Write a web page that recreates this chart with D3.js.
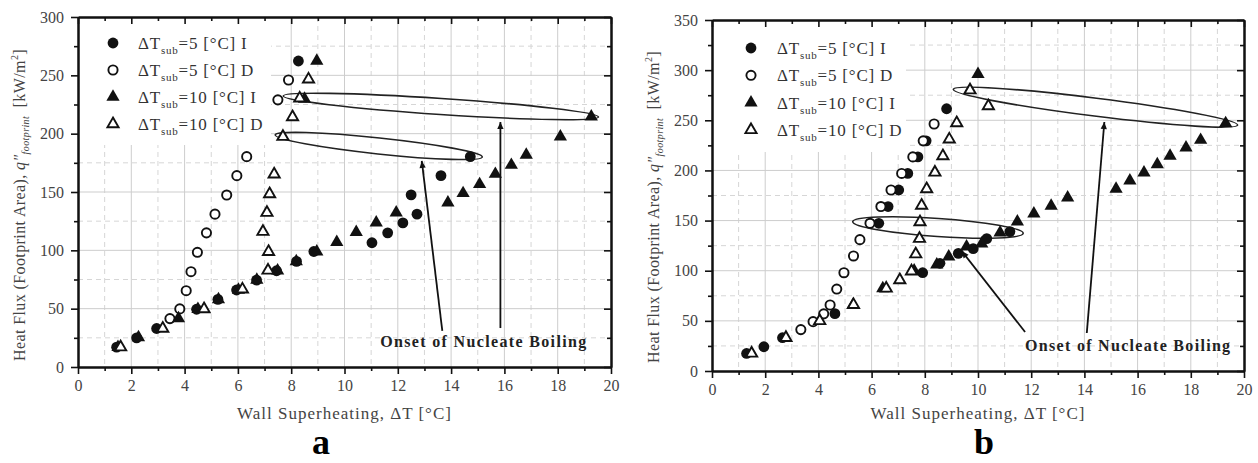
<!DOCTYPE html>
<html>
<head>
<meta charset="utf-8">
<script src="https://cdn.jsdelivr.net/npm/d3@7"></script>
<style>
  body { margin: 0; background: #fff; }
  svg { display: block; font-family: "Liberation Serif", "Times New Roman", serif; }
</style>
</head>
<body>
<svg id="chart" width="1258" height="463"></svg>
<script>
// ---- Tick values ----
const xTicks = [0, 2, 4, 6, 8, 10, 12, 14, 16, 18, 20];
const yTicksA = [0, 50, 100, 150, 200, 250, 300];
const yTicksB = [0, 50, 100, 150, 200, 250, 300, 350];

// ---- Legend ----
const legendSuffix = ["=5 [°C] I", "=5 [°C] D", "=10 [°C] I", "=10 [°C] D"];
const seriesKinds = ["circleFilled", "circleOpen", "triFilled", "triOpen"];

// ---- Panel a: [wall superheat °C, heat flux kW/m²] ----
const a5I = [[1.45,17],[2.2,25],[2.95,33],[4.45,49.5],[5.25,58],[5.95,66],[6.7,74.5],[7.45,82.5],[8.2,90.5],[8.85,99],
             [11.03,106.5],[11.62,115],[12.19,123.5],[12.72,131],[12.5,147.5],[13.62,164],[14.72,180.3],[8.27,262.3]];
const a5D = [[3.45,41.5],[3.82,49.8],[4.06,65.4],[4.24,81.7],[4.48,98.3],[4.82,115],[5.14,131],[5.58,147.4],[5.96,164],
             [6.33,180.3],[7.5,229],[7.9,246]];
const a10I = [[1.5,17],[2.27,25.4],[3.77,41.7],[4.5,49.5],[5.27,58],[6.02,66],[6.71,74.6],[7.49,82.5],[8.19,90.5],[8.96,98.8],
              [9.71,107],[10.44,115.5],[11.19,123.7],[11.94,132.3],[13.88,140.8],[14.45,148.9],[15.07,156.6],[15.66,165.4],
              [16.26,173.1],[16.82,181.7],[18.1,197.4],[19.26,214.6],[8.5,229.7],[8.96,262.3]];
const a10D = [[1.6,17],[3.18,33],[4.73,49.7],[6.17,66.6],[7.13,82.8],[7.15,98.8],[6.94,116],[7.09,132.3],[7.19,148.3],
              [7.36,165.2],[7.69,197.4],[8.05,214.3],[8.32,230.3],[8.65,246.6]];

// ---- Panel b ----
const b5I = [[1.3,17.5],[1.95,24.2],[2.65,33.2],[4.62,57.2],[7.92,98],[8.57,107.4],[9.26,117.3],[9.82,122],[10.33,132],
             [11.2,139],[6.27,147.3],[6.62,164],[7.02,180.5],[7.36,197],[7.74,213.5],[8.05,229.5],[8.82,261.5]];
const b5D = [[3.34,41.3],[3.8,49.2],[4.2,57],[4.44,65.8],[4.69,81.7],[4.96,98],[5.32,114.7],[5.56,131],[5.94,147.3],
             [6.35,164],[6.73,180.5],[7.13,197],[7.55,213.5],[7.94,229.5],[8.35,246.3]];
const b10I = [[5.3,66],[6.42,82.4],[7.6,100],[8.45,106],[8.9,114],[9.57,124],[10.14,127],[10.83,138],[11.48,148.9],
              [12.1,157],[12.75,164.7],[13.37,172.8],[15.19,181.5],[15.71,189.7],[16.24,197.7],[16.74,206.1],[17.22,214.4],
              [17.82,222.6],[18.37,230.3],[19.31,247],[10.0,296]];
const b10D = [[1.49,17.5],[2.78,33.2],[4.05,50],[5.32,66],[6.55,82.4],[7.06,90.7],[7.5,99.5],[7.66,116.5],[7.8,132],
              [7.82,148.5],[7.88,165],[8.07,181.5],[8.38,198],[8.68,214.4],[8.92,231],[9.2,247.3],[9.7,280],[10.39,264.2]];

// ---- Onset of nucleate boiling annotations (data units) ----
const onbLabel = "Onset of Nucleate Boiling";
const onbEllipsesA = [[[7.70,232.3],[19.53,214.3]], [[7.40,198.9],[15.17,180.0]]];
const onbArrowsA = [[[13.67,30.9],[12.9,176.6]], [[15.85,33.4],[15.85,210]]];
const onbTextA = [11.34, 17.1];
const onbEllipsesB = [[[9.07,280.9],[19.76,245.3]], [[5.29,148.9],[11.70,137.3]]];
const onbArrowsB = [[[11.77,38.9],[9.39,119.6]], [[14.09,37.9],[14.75,248.3]]];
const onbTextB = [11.77, 20];

const FONT = '"Liberation Serif", "Times New Roman", serif';

const svg = d3.select("#chart");
svg.append("rect").attr("width", 1258).attr("height", 463).attr("fill", "#fff");

const defs = svg.append("defs");
defs.append("marker")
  .attr("id", "arrowhead")
  .attr("viewBox", "0 0 10 10")
  .attr("refX", 10).attr("refY", 5)
  .attr("markerWidth", 10).attr("markerHeight", 7)
  .attr("markerUnits", "userSpaceOnUse")
  .attr("orient", "auto")
  .append("path").attr("d", "M0,0.5 L10,5 L0,9.5 Z").attr("fill", "#111");

const triFilledPath = d3.symbol(d3.symbolTriangle).size(76)();
const triOpenPath = d3.symbol(d3.symbolTriangle).size(54)();

function drawMarks(sel, kind) {
  if (kind === "circleFilled") {
    sel.append("circle").attr("r", 5.4).attr("fill", "#111");
  } else if (kind === "circleOpen") {
    sel.append("circle").attr("r", 4.6).attr("fill", "#fff").attr("stroke", "#111").attr("stroke-width", 1.9);
  } else if (kind === "triFilled") {
    sel.append("path").attr("d", triFilledPath).attr("fill", "#111");
  } else {
    sel.append("path").attr("d", triOpenPath).attr("fill", "#fff").attr("stroke", "#111")
      .attr("stroke-width", 1.9).attr("stroke-linejoin", "miter");
  }
}

function drawPanel(cfg) {
  const g = svg.append("g").attr("font-family", FONT);
  const x = d3.scaleLinear().domain([xTicks[0], xTicks[xTicks.length - 1]]).range([cfg.left, cfg.right]);
  const y = d3.scaleLinear().domain([cfg.yTicks[0], cfg.yTicks[cfg.yTicks.length - 1]]).range([cfg.bottom, cfg.top]);
  const xMinor = d3.pairs(xTicks).map(([a, b]) => (a + b) / 2);
  const yMinor = d3.pairs(cfg.yTicks).map(([a, b]) => (a + b) / 2);

  // grid: solid at major ticks, dashed at minor ticks
  const grid = g.append("g");
  grid.selectAll(null).data(xTicks.slice(1, -1)).join("line")
    .attr("x1", d => x(d)).attr("x2", d => x(d)).attr("y1", cfg.top).attr("y2", cfg.bottom)
    .attr("stroke", "#cdcdcd").attr("stroke-width", 1);
  grid.selectAll(null).data(xMinor).join("line")
    .attr("x1", d => x(d)).attr("x2", d => x(d)).attr("y1", cfg.top).attr("y2", cfg.bottom)
    .attr("stroke", "#d6d6d6").attr("stroke-width", 1).attr("stroke-dasharray", "5,4");
  grid.selectAll(null).data(cfg.yTicks.slice(1, -1)).join("line")
    .attr("y1", d => y(d)).attr("y2", d => y(d)).attr("x1", cfg.left).attr("x2", cfg.right)
    .attr("stroke", "#cdcdcd").attr("stroke-width", 1);
  grid.selectAll(null).data(yMinor).join("line")
    .attr("y1", d => y(d)).attr("y2", d => y(d)).attr("x1", cfg.left).attr("x2", cfg.right)
    .attr("stroke", "#d6d6d6").attr("stroke-width", 1).attr("stroke-dasharray", "5,4");

  // legend background
  g.append("rect").attr("x", cfg.left + 1).attr("y", cfg.top + 1)
    .attr("width", cfg.legendW).attr("height", cfg.legendH).attr("fill", "#fff");

  // axes (ticks out on left/bottom, in on top/right)
  const axes = g.append("g");
  axes.append("g").attr("transform", `translate(0,${cfg.bottom})`)
    .call(d3.axisBottom(x).tickValues(xTicks).tickSize(7).tickSizeOuter(0).tickPadding(6).tickFormat(d3.format("d")));
  axes.append("g").attr("transform", `translate(0,${cfg.bottom})`)
    .call(d3.axisBottom(x).tickValues(xMinor).tickSize(4).tickSizeOuter(0).tickFormat(""));
  axes.append("g").attr("transform", `translate(0,${cfg.top})`)
    .call(d3.axisTop(x).tickValues(xTicks).tickSize(-7).tickSizeOuter(0).tickFormat(""));
  axes.append("g").attr("transform", `translate(0,${cfg.top})`)
    .call(d3.axisTop(x).tickValues(xMinor).tickSize(-4).tickSizeOuter(0).tickFormat(""));
  axes.append("g").attr("transform", `translate(${cfg.left},0)`)
    .call(d3.axisLeft(y).tickValues(cfg.yTicks).tickSize(7).tickSizeOuter(0).tickPadding(7).tickFormat(d3.format("d")));
  axes.append("g").attr("transform", `translate(${cfg.left},0)`)
    .call(d3.axisLeft(y).tickValues(yMinor).tickSize(4).tickSizeOuter(0).tickFormat(""));
  axes.append("g").attr("transform", `translate(${cfg.right},0)`)
    .call(d3.axisRight(y).tickValues(cfg.yTicks).tickSize(-7).tickSizeOuter(0).tickFormat(""));
  axes.append("g").attr("transform", `translate(${cfg.right},0)`)
    .call(d3.axisRight(y).tickValues(yMinor).tickSize(-4).tickSizeOuter(0).tickFormat(""));
  axes.selectAll("g").attr("font-family", FONT);
  axes.selectAll(".domain").attr("stroke", "#111").attr("stroke-width", 2);
  axes.selectAll(".tick line").attr("stroke", "#111").attr("stroke-width", 1.6);
  axes.selectAll(".tick text").attr("font-family", FONT).attr("font-size", 16).attr("fill", "#444");

  // onset-of-boiling ellipses
  cfg.ellipses.forEach(([p0, p1]) => {
    const x0 = x(p0[0]), y0 = y(p0[1]), x1 = x(p1[0]), y1 = y(p1[1]);
    const cx = (x0 + x1) / 2, cy = (y0 + y1) / 2;
    const rx = Math.hypot(x1 - x0, y1 - y0) / 2;
    const ang = Math.atan2(y1 - y0, x1 - x0) * 180 / Math.PI;
    g.append("ellipse").attr("cx", 0).attr("cy", 0).attr("rx", rx).attr("ry", cfg.ellipseRy)
      .attr("transform", `translate(${cx},${cy}) rotate(${ang})`)
      .attr("fill", "none").attr("stroke", "#222").attr("stroke-width", 1.6);
  });

  // series
  cfg.series.forEach((pts, i) => {
    g.append("g").selectAll("g").data(pts).join("g")
      .attr("transform", d => `translate(${x(d[0])},${y(d[1])})`)
      .call(sel => drawMarks(sel, seriesKinds[i]));
  });

  // arrows and label
  cfg.arrows.forEach(([p0, p1]) => {
    g.append("line").attr("x1", x(p0[0])).attr("y1", y(p0[1])).attr("x2", x(p1[0])).attr("y2", y(p1[1]))
      .attr("stroke", "#111").attr("stroke-width", 1.8).attr("marker-end", "url(#arrowhead)");
  });
  g.append("text").attr("x", x(cfg.onbText[0])).attr("y", y(cfg.onbText[1]))
    .attr("font-size", 16).attr("font-weight", "bold").attr("fill", "#222")
    .attr("textLength", cfg.onbWidth).attr("lengthAdjust", "spacing")
    .text(onbLabel);

  // legend entries
  const leg = g.append("g");
  legendSuffix.forEach((s, i) => {
    const ry = cfg.legY + i * cfg.legStep;
    leg.append("g").attr("transform", `translate(${cfg.legMarkX},${ry})`).call(sel => drawMarks(sel, seriesKinds[i]));
    const t = leg.append("text").attr("x", cfg.legTextX).attr("y", ry + 6)
      .attr("font-size", 17).attr("fill", "#333").attr("letter-spacing", 0.8);
    t.append("tspan").text("ΔT");
    t.append("tspan").attr("font-size", 11).attr("dy", 5).text("sub");
    t.append("tspan").attr("dy", -5).text(s);
  });

  // axis titles
  g.append("text").attr("x", (cfg.left + cfg.right) / 2).attr("y", cfg.xTitleY)
    .attr("text-anchor", "middle").attr("font-size", 17).attr("fill", "#444").attr("letter-spacing", 1)
    .text("Wall Superheating, ΔT [°C]");
  const yt = g.append("text")
    .attr("transform", `translate(${cfg.yTitleX},${cfg.yTitleY}) rotate(-90)`)
    .attr("text-anchor", "middle").attr("font-size", 16).attr("fill", "#444").attr("letter-spacing", 0.4);
  yt.append("tspan").text("Heat Flux (Footprint Area), ");
  yt.append("tspan").attr("font-style", "italic").text("q\u2033");
  yt.append("tspan").attr("font-style", "italic").attr("font-size", 10).attr("dy", 4).text("footprint");
  yt.append("tspan").attr("dy", -4).text("\u2002[kW/m");
  yt.append("tspan").attr("font-size", 10).attr("dy", -7).text("2");
  yt.append("tspan").attr("dy", 7).text("]");

  // panel letter
  g.append("text").attr("x", cfg.letterX).attr("y", cfg.letterY).attr("text-anchor", "middle")
    .attr("font-size", 36).attr("font-weight", "bold").attr("fill", "#000").text(cfg.letter);
}

drawPanel({
  left: 78, right: 611, top: 17, bottom: 367, yTicks: yTicksA,
  series: [a5I, a5D, a10I, a10D],
  ellipses: onbEllipsesA, ellipseRy: 8, arrows: onbArrowsA, onbText: onbTextA, onbWidth: 206,
  legendW: 192, legendH: 127, legMarkX: 113, legTextX: 138, legY: 43, legStep: 27,
  xTitleY: 419, yTitleX: 25, yTitleY: 205, letter: "a", letterX: 321, letterY: 454
});

drawPanel({
  left: 712, right: 1244, top: 20, bottom: 371, yTicks: yTicksB,
  series: [b5I, b5D, b10I, b10D],
  ellipses: onbEllipsesB, ellipseRy: 9, arrows: onbArrowsB, onbText: onbTextB, onbWidth: 205,
  legendW: 193, legendH: 131, legMarkX: 751, legTextX: 777, legY: 48, legStep: 27.3,
  xTitleY: 419, yTitleX: 659, yTitleY: 207, letter: "b", letterX: 984, letterY: 454
});
</script>
</body>
</html>
